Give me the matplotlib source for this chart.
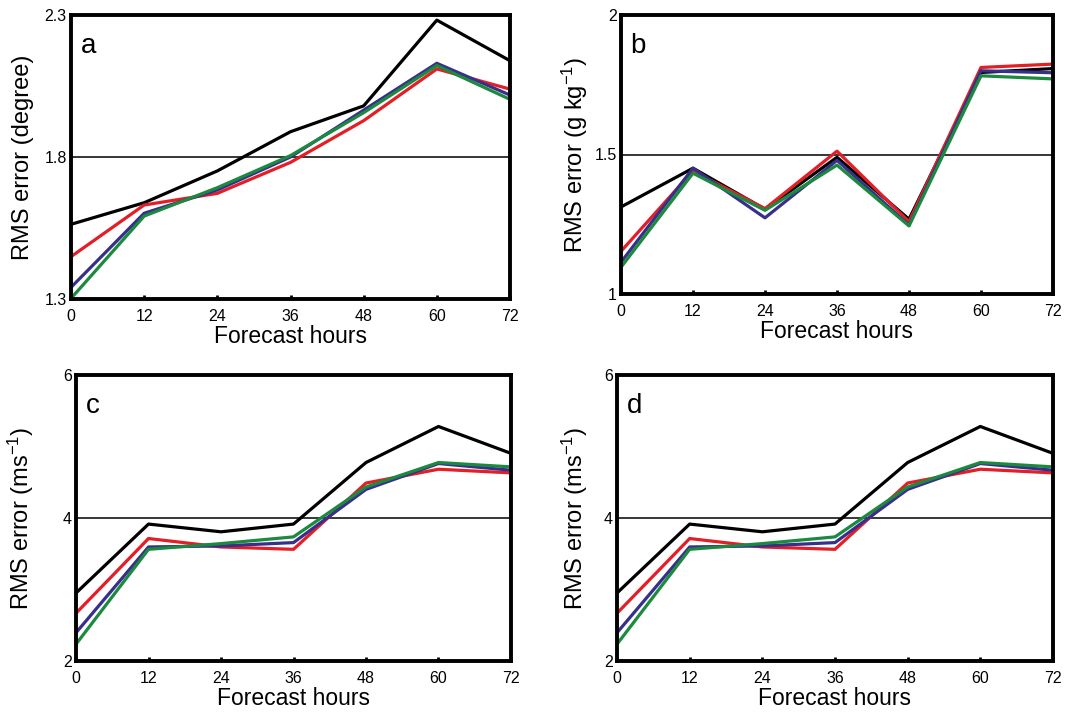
import matplotlib
matplotlib.use("Agg")
import matplotlib.pyplot as plt
import numpy as np

plt.rcParams['font.family'] = ['Liberation Sans', 'DejaVu Sans']
plt.rcParams['mathtext.default'] = 'regular'

hours = [0, 12, 24, 36, 48, 60, 72]

# panel a: temperature (degree)
a_black = [1.563, 1.639, 1.751, 1.889, 1.980, 2.282, 2.139]
a_red = [1.449, 1.631, 1.672, 1.781, 1.928, 2.110, 2.039]
a_blue = [1.341, 1.602, 1.684, 1.800, 1.965, 2.130, 2.018]
a_green = [1.302, 1.592, 1.692, 1.805, 1.956, 2.122, 2.003]

# panel b: humidity (g/kg)
b_black = [1.312, 1.451, 1.304, 1.490, 1.268, 1.794, 1.808]
b_red = [1.153, 1.441, 1.306, 1.512, 1.259, 1.812, 1.824]
b_blue = [1.114, 1.451, 1.273, 1.479, 1.247, 1.800, 1.793]
b_green = [1.096, 1.433, 1.300, 1.462, 1.244, 1.782, 1.771]

# panel c: wind (m/s)
c_black = [2.951, 3.915, 3.807, 3.915, 4.776, 5.280, 4.904]
c_red = [2.668, 3.713, 3.595, 3.562, 4.489, 4.682, 4.631]
c_blue = [2.395, 3.595, 3.609, 3.656, 4.400, 4.762, 4.668]
c_green = [2.235, 3.562, 3.642, 3.736, 4.433, 4.776, 4.715]

# panel d: wind (m/s)
d_black = [2.951, 3.915, 3.807, 3.915, 4.776, 5.280, 4.904]
d_red = [2.668, 3.713, 3.595, 3.562, 4.489, 4.682, 4.631]
d_blue = [2.395, 3.595, 3.609, 3.656, 4.400, 4.762, 4.668]
d_green = [2.235, 3.562, 3.642, 3.736, 4.433, 4.776, 4.715]

colors = ['black', '#e41e26', '#382f8c', '#1b8a3e']

W, H = 1065, 713
fig = plt.figure(figsize=(W / 100, H / 100), dpi=100)


def box(l, t, r, b):
    return [l / W, 1 - b / H, (r - l) / W, (b - t) / H]


panels = [
    (box(71, 15, 510, 299), 'a', [a_black, a_red, a_blue, a_green],
     (1.3, 2.3), ['1.3', '1.8', '2.3'], 'RMS error (degree)', -0.084),
    (box(621, 15, 1053, 294), 'b', [b_black, b_red, b_blue, b_green],
     (1.0, 2.0), ['1', '1.5', '2'], 'RMS error (g kg$^{-1}$)', -0.072),
    (box(76, 375, 511, 661), 'c', [c_black, c_red, c_blue, c_green],
     (2.0, 6.0), ['2', '4', '6'], 'RMS error (ms$^{-1}$)', -0.092),
    (box(617, 375, 1053, 661), 'd', [d_black, d_red, d_blue, d_green],
     (2.0, 6.0), ['2', '4', '6'], 'RMS error (ms$^{-1}$)', -0.062),
]

for rect, letter, series, ylim, ylabels, ylab, ylx in panels:
    ax = fig.add_axes(rect)
    lo, hi = ylim
    mid = (lo + hi) / 2
    ax.axhline(mid, color='black', lw=1.1, zorder=1)
    for s, c in zip(series, colors):
        ax.plot(hours, s, color=c, lw=2.3, zorder=2)
    ax.set_xlim(0, 72)
    ax.set_ylim(lo, hi)
    ax.set_xticks(hours)
    ax.set_xticklabels([str(h) for h in hours], fontsize=11.5)
    ax.set_yticks([lo, mid, hi])
    ax.set_yticklabels(ylabels, fontsize=11.5)
    ax.tick_params(axis='x', direction='in', length=3, width=2, pad=7)
    ax.tick_params(axis='y', length=0, pad=3)
    for sp in ax.spines.values():
        sp.set_linewidth(2.8)
    ax.set_xlabel('Forecast hours', fontsize=16.5, labelpad=1)
    ax.set_ylabel(ylab, fontsize=17)
    ax.yaxis.set_label_coords(ylx, 0.5)
    ax.text(0.022, 0.89, letter, transform=ax.transAxes, fontsize=20,
            va='center', ha='left')

fig.savefig('out.png', dpi=100)
